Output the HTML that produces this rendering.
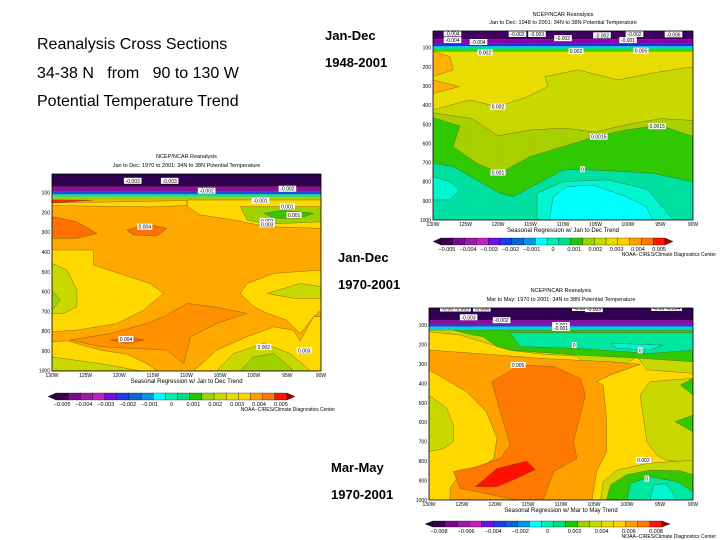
<!DOCTYPE html>
<html><head><meta charset="utf-8"><style>
html,body{margin:0;padding:0;background:#fff;}
svg{display:block;font-family:"Liberation Sans",Arial,sans-serif;}
</style></head><body>
<svg id="root" width="720" height="540" viewBox="0 0 720 540" xmlns="http://www.w3.org/2000/svg">
<rect x="0" y="0" width="720" height="540" fill="#fff"/>
<g font-size="16" fill="#000">
<text x="37" y="49">Reanalysis Cross Sections</text>
<text x="37" y="78" xml:space="preserve">34-38 N   from   90 to 130 W</text>
<text x="37" y="106">Potential Temperature Trend</text>
</g>
<g font-size="13" font-weight="bold" fill="#000">
<text x="325" y="40">Jan-Dec</text>
<text x="325" y="67">1948-2001</text>
<text x="338" y="262">Jan-Dec</text>
<text x="338" y="289">1970-2001</text>
<text x="331" y="472">Mar-May</text>
<text x="331" y="499">1970-2001</text>
</g>
<defs id="defs"></defs>
</svg>
<script>
// ---------- data: contour regions in (longitude °W, pressure hPa) ----------
const lonTicks = [130,125,120,115,110,105,100,95,90];
const presTicks = [100,200,300,400,500,600,700,800,900,1000];
const cbColors = ['#3c0050','#7a0a8c','#9b1aa8','#c020c0','#7010e0','#1e3ce6','#0a64d2','#0096e6','#00ffff','#00f0b4','#00e080','#1ec800','#a0d200','#c8d800','#e8dc00','#ffd200','#ffa000','#ff7800','#ff1400'];
const cbLabelsA = ['\u22120.005','\u22120.004','\u22120.003','\u22120.002','\u22120.001','0','0.001','0.002','0.003','0.004','0.005'];
const cbLabelsB = ['\u22120.008','\u22120.006','\u22120.004','\u22120.002','0','0.002','0.004','0.006','0.008'];

// Panel 1 (Jan-Dec 1948-2001)
const T_bands = [[0,55,'#400060'],[55,80,'#9000a8'],[80,92,'#2030e0'],[92,100,'#00c0ff'],[100,110,'#00e080'],[110,118,'#40c800']];
const T_base = '#c8d800';
const T_yellow = [[130,118],[90,118],[90,199],[96.4,233],[101.5,268],[107.7,216],[112.8,251],[112.3,303],[115.4,355],[120,408],[124.4,373],[130,425]];
const T_orange1 = [[130,118],[127.4,146],[126.9,216],[130,251]];
const T_orange2 = [[130,268],[125.9,303],[130,338]];
const T_ygreen = [[130,440],[124,470],[120,560],[115,530],[110,520],[105,540],[100,500],[95,470],[90,480],[90,1000],[130,1000]];
const T_green = [[130,465],[125.9,509],[126.9,617],[123.3,704],[119.7,756],[115.1,669],[110,617],[104.9,564],[100.3,530],[95.2,504],[90,564],[90,1000],[130,1000]];
const T_aqua = [[130,704],[126.9,721],[119.7,860],[117.7,878],[110,739],[107.4,735],[101.3,746],[96.2,756],[90,800],[90,1000],[130,1000]];
const T_laqua1 = [[130,774],[127.4,800],[125.9,843],[127.4,895],[130,895]];
const T_laqua2 = [[114,1000],[114,860],[110,800],[103,790],[97,840],[93,1000]];
const T_cyan = [[112.1,1000],[111.5,878],[109.5,826],[105.4,817],[100.3,878],[97.2,930],[96.2,1000]];
const T_labels = [[120,408,'0.002'],[104.5,565,'0.0015'],[95.5,510,'0.0015'],[120,752,'0.001'],[107,735,'0'],[122,125,'0.002'],[108,118,'0.002'],[98,115,'0.005'],[127,25,'-0.004'],[117,28,'-0.002'],[114,28,'-0.003'],[104,35,'-0.002'],[99,28,'-0.002'],[93,30,'-0.006'],[127,60,'-0.004'],[123,70,'-0.004'],[110,50,'-0.002'],[100,60,'-0.001']];

// Panel 2 (Jan-Dec 1970-2001)
const L_bands = [[0,70,'#300050'],[70,95,'#8a10a0'],[95,108,'#1a50e0'],[108,120,'#00e0c0'],[120,135,'#a0d200']];
const L_base = '#ffa800';
const L_redStreak = [[130,135],[124,138],[130,152]];
const L_yellowTop = [[130,152],[110,140],[109.9,165],[115.4,172],[130,165]];
const L_yellowRight = [[109.9,137],[90,137],[90,280],[98,272],[103,238],[107.9,213],[109.9,171]];
const L_ygreenRight = [[102,171],[90,171],[90,247],[98,259],[101,238]];
const L_greenRight = [[98.5,204],[95.6,188],[91.1,204],[93.1,229],[97,229]];
const L_dOrangeLeft = [[130,221],[126.3,247],[123.3,306],[126.3,331],[130,331]];
const L_dOrangeMid = [[118.9,289],[115.9,259],[112.9,280],[114.4,319],[117.9,314]];
const L_darkCenter = [[113.4,727],[109.9,660],[106,677],[101,710],[105.5,761],[109.4,828],[110.4,964],[112.9,896],[122.8,879],[127.3,845],[121.3,812],[115.9,761]];
const L_dOrangeLow = [[121.3,845],[118.4,832],[116.4,845],[118.9,862]];
const L_yellowLeft = [[130,390],[123.8,390],[123.8,466],[115.4,559],[113.4,609],[116.4,694],[120.3,761],[126.3,795],[130,803]];
const L_oliveLeft = [[130,457],[127.8,491],[126.3,592],[126.3,677],[128.3,710],[130,710]];
const L_ygreenLeft = [[130,592],[128.8,643],[130,694]];
const L_yellowRightMid = [[90,491],[97,508],[101,559],[102,609],[100,677],[98,710],[95.1,744],[93.1,812],[91.1,727],[90,694]];
const L_oliveRight = [[98,609],[93.1,559],[90,575],[90,634],[94.1,634]];
const L_yellowBL = [[130,854],[127.8,849],[122.8,896],[118.9,916],[115.9,964],[114.4,1000],[130,1000]];
const L_oliveBL = [[130,930],[122.8,964],[117,1000],[130,1000]];
const L_yellowBR = [[108.9,1000],[105.5,896],[101,828],[97,778],[94.1,795],[93.1,849],[91.1,727],[90,727],[90,1000]];
const L_oliveBR = [[105.5,1000],[103,913],[98.5,862],[94.6,913],[91.6,1000]];
const L_ygreenBR = [[102,1000],[100,930],[97,913],[94.1,1000]];
const L_labels = [[118,40,'-0.003'],[112.5,40,'-0.003'],[107,90,'-0.002'],[95,80,'-0.002'],[99,140,'-0.001'],[95,170,'0.001'],[94,213,'0.001'],[98,243,'0.002'],[98,260,'0.003'],[116.2,272,'0.004'],[119,840,'0.004'],[98.5,880,'0.002'],[92.5,897,'0.003']];

// Panel 3 (Mar-May 1970-2001)
const B_bands = [[0,74,'#300050'],[74,97,'#8a10a0'],[97,108,'#1a40e0'],[108,126,'#00d0e0']];
const B_base = '#ffd800';
const B_olive = [[130,126],[90,126],[90,349],[97,330],[98.5,260],[100,300],[106.3,300],[107.6,260],[112.7,250],[117.7,230],[125.3,151],[130,134]];
const B_green = [[126.3,126],[90,126],[90,289],[97.5,272],[107.6,254],[117.7,229],[119.7,211],[121.8,160],[123.8,148]];
const B_aqua = [[117.7,140],[90,140],[90,229],[96.5,246],[107.6,220],[116.2,211]];
const B_laqua = [[102.5,194],[94.5,203],[96.5,229],[101.5,220]];
const B_orange = [[130,229],[122.8,246],[112.7,272],[102.5,289],[98,302],[102.5,357],[104.6,391],[103.6,409],[103.1,580],[103.1,752],[104.6,854],[105.3,1000],[126.8,1000],[126.8,940],[125.8,889],[122.8,854],[120.2,786],[119.7,683],[121.3,546],[124.3,443],[130,330]];
const B_dOrange = [[120.5,392],[116.2,306],[111.1,314],[107.1,374],[106.3,460],[107.6,632],[108.1,700],[107.6,786],[111.1,854],[112.7,1000],[116.7,1000],[125.3,940],[126.3,854],[122.8,829],[119.2,786],[117.7,717],[119.2,546]];
const B_red = [[123,932],[119.7,838],[115.2,800],[113.9,843],[116.7,889],[119.7,932]];
const B_oliveLeft = [[130,460],[127.3,529],[126.3,615],[126.3,700],[127.8,735],[130,752]];
const B_oliveRight = [[90,374],[96.5,391],[98,460],[97.5,580],[97,700],[95.5,769],[94,795],[90,812]];
const B_greenR1 = [[90,374],[91.9,409],[90,460]];
const B_greenR2 = [[90,563],[92.7,597],[90,649]];
const B_oliveBR = [[104,1000],[103.6,906],[101.5,846],[97,812],[90,795],[90,1000]];
const B_greenBR = [[103.1,1000],[102.5,923],[100,870],[96.5,846],[92,850],[90,870],[90,1000]];
const B_aquaBR = [[100,1000],[99.5,915],[96.5,880],[92.4,906],[90,958],[90,1000]];
const B_laquaBR = [[96.5,1000],[96,923],[94,915],[92.4,1000]];
const B_labels = [[127,15,'-0.006'],[125,15,'-0.005'],[122,15,'-0.004'],[107,12,'-0.003'],[105,18,'-0.003'],[95,12,'-0.003'],[93,12,'-0.004'],[124,60,'-0.003'],[119,75,'-0.002'],[110,100,'-0.001'],[110,115,'-0.001'],[108,203,'0'],[98,230,'0'],[116.5,305,'0.005'],[97.5,795,'0.002'],[97,890,'0']];

// ---------- rendering ----------
const NS = 'http://www.w3.org/2000/svg';
const root = document.getElementById('root');
const defs = document.getElementById('defs');
function mk(tag, attrs, parent){const e=document.createElementNS(NS,tag);for(const k in attrs)e.setAttribute(k,attrs[k]);(parent||root).appendChild(e);return e;}

function xScale(P, lon){return P.x0 + (130-lon)/40*(P.x1-P.x0);}
function yScale(P, p){return P.py0 + p*P.k;}

function drawPanel(P, bands, base, layers, labels){
  const cp = mk('clipPath',{id:P.id+'-clip'},defs);
  mk('rect',{x:P.x0,y:P.yTop,width:P.x1-P.x0,height:P.yBot-P.yTop},cp);
  const g = mk('g',{'clip-path':'url(#'+P.id+'-clip)'});
  
  
  const bg = mk('rect',{x:P.x0,y:P.yTop,width:P.x1-P.x0,height:P.yBot-P.yTop,fill:base},g);
  
  
  for(const L of layers){
    const pts = L[0].map(d=>xScale(P,d[0]).toFixed(1)+','+yScale(P,d[1]).toFixed(1)).join(' ');
    const poly = mk('polygon',{points:pts,fill:L[1],stroke:'#5a4a20','stroke-width':0.5,'stroke-opacity':0.7},g);
    
    
  }
  for(const b of bands){
    const r = mk('rect',{x:P.x0,y:yScale(P,b[0]),width:P.x1-P.x0,height:(b[1]-b[0])*P.k,fill:b[2]},g);
    
    
  }
  for(const t of lonTicks){
    const l = mk('line',{x1:xScale(P,t),x2:xScale(P,t),y1:P.yTop,y2:P.yBot,stroke:'#888','stroke-width':0.3,'stroke-dasharray':'0.5 3'},g);
    
    
  }
  for(const lb of labels){
    const cx = xScale(P,lb[0]), cy = yScale(P,lb[1]);
    const w = lb[2].length*2.6+2;
    const r = mk('rect',{x:cx-w/2,y:cy-3,width:w,height:6,fill:'#fff'},g);
    
    
    const t = mk('text',{x:cx,y:cy+2,'font-size':5,'text-anchor':'middle',fill:'#000'},g);
    
    
    t.textContent = lb[2];
  }
  const fr = mk('rect',{x:P.x0,y:P.yTop,width:P.x1-P.x0,height:P.yBot-P.yTop,fill:'none',stroke:'#000','stroke-width':0.8});
  
  
  for(const t of presTicks){
    const y = Math.min(yScale(P,t), P.yBot);
    const tx = mk('text',{x:P.x0-2,y:y+2,'font-size':5,'text-anchor':'end',fill:'#000'});
    
    
    tx.textContent = t;
  }
  for(const t of lonTicks){
    const tx = mk('text',{x:xScale(P,t),y:P.yBot+6,'font-size':5,'text-anchor':'middle',fill:'#000'});
    
    
    tx.textContent = t+'W';
  }
  const cx = (P.x0+P.x1)/2;
  const t1 = mk('text',{x:cx,y:P.t1y,'font-size':5.5,'text-anchor':'middle',fill:'#000'});
  
  
  t1.textContent = 'NCEP/NCAR Reanalysis';
  const t2 = mk('text',{x:cx,y:P.t2y,'font-size':5.5,'text-anchor':'middle',fill:'#000'});
  
  
  t2.textContent = P.sub;
  const t3 = mk('text',{x:cx,y:P.yBot+12,'font-size':6,'text-anchor':'middle',fill:'#000'});
  
  
  t3.textContent = P.xt;
  const C = P.cb, n = cbColors.length, tri = 8;
  const bw = (C.x1-C.x0-2*tri)/n;
  const lt = mk('polygon',{points:C.x0+','+(C.y0+C.y1)/2+' '+(C.x0+tri)+','+C.y0+' '+(C.x0+tri)+','+C.y1,fill:'#30003c',stroke:'#000','stroke-width':0.3});
  
  
  cbColors.forEach((c,i)=>{
    const r = mk('rect',{x:C.x0+tri+i*bw,y:C.y0,width:bw,height:C.y1-C.y0,fill:c,stroke:'#000','stroke-width':0.3});
    
    
  });
  const rt = mk('polygon',{points:C.x1+','+(C.y0+C.y1)/2+' '+(C.x1-tri)+','+C.y0+' '+(C.x1-tri)+','+C.y1,fill:'#a00000',stroke:'#000','stroke-width':0.3});
  
  
  const labs = C.labels;
  labs.forEach((s,i)=>{
    const x = C.x0+tri+bw*0.5 + i*((C.x1-C.x0-2*tri-bw)/(labs.length-1));
    const tx = mk('text',{x:x,y:C.y1+6,'font-size':5.5,'text-anchor':'middle',fill:'#000'});
    
    
    tx.textContent = s;
  });
  const nt = mk('text',{x:C.nx,y:C.ny,'font-size':5,'text-anchor':'end',fill:'#000'});
  
  
  nt.textContent = 'NOAA\u2212CIRES/Climate Diagnostics Center';
}

const PT = {id:'panel-jan-dec-1948',x0:433,x1:693,yTop:31,yBot:220,py0:28.6,k:0.1914,t1y:16,t2y:24,
  sub:'Jan to Dec: 1948 to 2001: 34N to 38N  Potential Temperature',xt:'Seasonal Regression w/ Jan to Dec Trend',
  cb:{x0:433,x1:673,y0:238,y1:245,labels:cbLabelsA,nx:716,ny:256}};
const PL = {id:'panel-jan-dec-1970',x0:52,x1:321,yTop:174,yBot:371,py0:172.9,k:0.1978,t1y:158,t2y:167,
  sub:'Jan to Dec: 1970 to 2001: 34N to 38N  Potential Temperature',xt:'Seasonal Regression w/ Jan to Dec Trend',
  cb:{x0:48,x1:295,y0:393,y1:400,labels:cbLabelsA,nx:335,ny:411}};
const PB = {id:'panel-mar-may-1970',x0:429,x1:693,yTop:308,yBot:500,py0:305.6,k:0.1944,t1y:292,t2y:301,
  sub:'Mar to May: 1970 to 2001: 34N to 38N  Potential Temperature',xt:'Seasonal Regression w/ Mar to May Trend',
  cb:{x0:425,x1:670,y0:521,y1:527,labels:cbLabelsB,nx:716,ny:538}};

drawPanel(PT, T_bands, T_base, [
  [T_ygreen,'#a8d000'],[T_green,'#30c800'],[T_aqua,'#00e0a0'],[T_laqua1,'#00f5d0'],[T_laqua2,'#00f5d0'],[T_cyan,'#00ffff'],
  [T_yellow,'#e8dc00'],[T_orange1,'#ffb000'],[T_orange2,'#ffb000']], T_labels);
drawPanel(PL, L_bands, L_base, [
  [L_redStreak,'#ff2000'],[L_yellowTop,'#ffd800'],[L_yellowRight,'#ffd800'],[L_ygreenRight,'#a0d200'],[L_greenRight,'#30c800'],
  [L_dOrangeLeft,'#ff7000'],[L_dOrangeMid,'#ff7000'],[L_darkCenter,'#ff9000'],[L_dOrangeLow,'#ff6000'],
  [L_yellowLeft,'#ffd800'],[L_oliveLeft,'#c8d800'],[L_ygreenLeft,'#a0d200'],
  [L_yellowRightMid,'#ffd800'],[L_oliveRight,'#c8d800'],
  [L_yellowBL,'#ffd800'],[L_oliveBL,'#c8d800'],[L_yellowBR,'#ffd800'],[L_oliveBR,'#c8d800'],[L_ygreenBR,'#a0d200']], L_labels);
drawPanel(PB, B_bands, B_base, [
  [B_olive,'#c8d800'],[B_green,'#30c800'],[B_aqua,'#00e8a0'],[B_laqua,'#00f5d0'],
  [B_orange,'#ffa000'],[B_dOrange,'#ff7800'],[B_red,'#ff1000'],
  [B_oliveLeft,'#c8d800'],[B_oliveRight,'#c8d800'],[B_greenR1,'#30c800'],[B_greenR2,'#30c800'],
  [B_oliveBR,'#c8d800'],[B_greenBR,'#30c800'],[B_aquaBR,'#00e8a0'],[B_laquaBR,'#00f5d0']], B_labels);
</script>
</body></html>
